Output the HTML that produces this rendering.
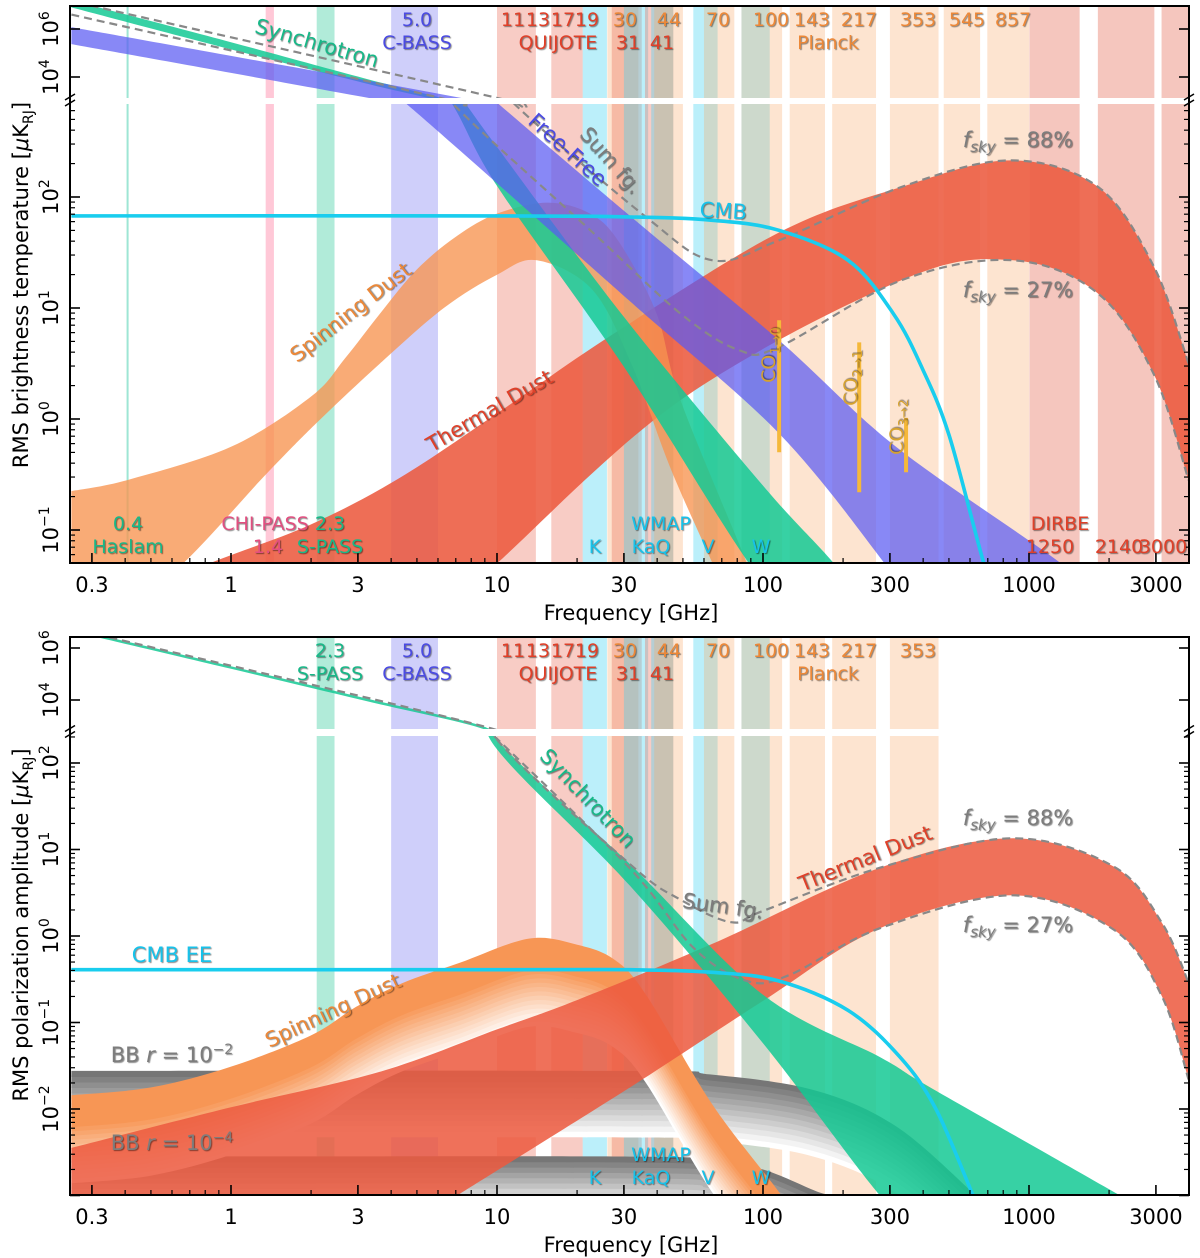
<!DOCTYPE html>
<html><head><meta charset="utf-8"><style>
html,body{margin:0;padding:0;background:#fff;}
svg{display:block;font-family:"DejaVu Sans","Liberation Sans",sans-serif;}
.lab{text-shadow:1px 1px 1px rgba(0,0,0,0.45);}
</style></head><body>
<svg id="chart" width="1200" height="1258" viewBox="0 0 1200 1258" xmlns="http://www.w3.org/2000/svg">
<defs id="defs"></defs>
<g id="layer"></g>
</svg>
<script>
// ---------- experiment bands (GHz) ----------
const bandLo   = [0.405,1.35,2.1,4.0,10,16,21,26,27,30,36,38,39,54.7,60,83,83,126,182,300,478,697,1003,1815,3150];
const bandHi   = [0.411,1.45,2.45,6.0,14,21,25.9,34,35,37,46,46,50,67.5,78,106,118,171,266,457,655,1000,1550,2960,3990];
const bandKind = ['haslam','chi','spass','cbass','quijote','quijote','wmap','planck','quijote','wmap','quijote','wmap','planck','wmap','planck','wmap','planck','planck','planck','planck','planck','planck','dirbe','dirbe','dirbe'];
const bandInPol = [0,0,1,1,1,1,1,1,1,1,1,1,1,1,1,1,1,1,1,1,0,0,0,0,0];

// ---------- TOP PANEL (log10 GHz, log10 uK) ----------
const syncLf   = [-0.6,0,0.5,0.8,1.0,1.477,2.0,2.27,2.5];
const syncHi   = [7.2,5.45,3.95,3.1,2.45,0.92,-0.6,-1.31,-2.0];
const syncLoLf = [-0.6,0,0.5,0.8,1.0,1.477,1.95,2.2];
const syncLo   = [6.9,5.15,3.75,2.95,2.1,0.47,-1.31,-2.0];

const ffHiLf = [-0.6,0,0.5,1.0,1.5,2.06,2.5,3.12,3.3];
const ffHi   = [6.08,4.88,3.88,2.85,1.83,0.71,-0.25,-1.3,-1.7];
const ffLoLf = [-0.6,0,0.556,0.86,1.5,2.06,2.46,2.6];
const ffLo   = [5.37,4.17,3.05,2.42,1.06,-0.13,-1.31,-1.8];

const ameHiLf = [-0.6,-0.39,0,0.3,0.43,0.56,0.7,0.85,1.0,1.19,1.35,1.46,1.6,1.69,1.94,2.0];
const ameHi   = [-0.65,-0.55,-0.25,0.2,0.55,0.95,1.35,1.65,1.85,1.95,1.85,1.59,0.95,0.17,-1.3,-1.7];
const ameLoLf = [-0.6,-0.25,0.135,0.32,0.56,0.8,1.0,1.15,1.36,1.51,1.65,1.81,1.9];
const ameLo   = [-1.9,-1.45,-0.49,-0.04,0.5,1.0,1.3,1.43,1.16,0.47,-0.43,-1.3,-1.8];

const dustHiLf = [-0.6,-0.08,0.3,0.635,1.0,1.44,2.06,2.52,2.93,3.26,3.47,3.6];
const dustHi   = [-1.8,-1.3,-0.95,-0.53,0.05,0.77,1.68,2.09,2.33,2.09,1.37,0.5];
const dustLoLf = [-0.6,0.9,1.0,1.69,2.52,2.94,3.26,3.47,3.6];
const dustLo   = [-2.5,-1.5,-1.3,0.17,1.25,1.43,1.13,0.4,-0.55];

const cmbLf = [-0.6,1.0,1.5,1.81,2.06,2.32,2.49,2.6,2.7,2.83,2.9];
const cmbT  = [1.83,1.83,1.82,1.79,1.70,1.43,0.95,0.45,-0.15,-1.3,-1.8];

const sumALf = [-0.6,-0.52,1.0,1.06,1.56,1.81,2.06,2.52,2.93,3.26,3.47,3.6];
const sumA   = [7.2,6.96,3.13,2.85,1.82,1.43,1.61,2.09,2.33,2.09,1.37,0.5];
const sumBLf = [-0.6,0.79,0.83,1.36,1.69,1.91,2.06,2.52,2.94,3.26,3.47,3.6];
const sumB   = [6.6,3.12,2.85,1.68,0.95,0.62,0.65,1.25,1.43,1.13,0.4,-0.55];

const coFreq = [115,230,345];
const coTop  = [0.89,0.69,0.01];
const coBot  = [-0.3,-0.66,-0.48];

// ---------- BOTTOM PANEL ----------
const pSyncLf = [-0.6,0,0.5,0.95,0.99,1.5,2.0,2.44,2.6,3.0,3.4];
const pSyncHi = [6.75,5.3,4.08,2.98,2.31,0.83,-0.68,-1.4,-1.7,-2.4,-3.1];
const pSyncLo = [6.65,5.2,3.98,2.88,2.2,0.58,-1.24,-3.0,-3.4,-3.8,-4.0];

const pDustHiLf = [-0.6,0,0.56,1.0,1.31,1.81,2.44,2.94,3.32,3.5,3.6];
const pDustHi   = [-2.45,-1.98,-1.57,-1.08,-0.73,-0.09,0.79,1.13,0.8,0.15,-0.54];
const pDustLoLf = [-0.6,0.8,0.85,1.5,2.0,2.44,2.94,3.32,3.5,3.6];
const pDustLo   = [-3.5,-3.1,-3.0,-1.75,-0.75,0.09,0.47,0.07,-0.7,-1.66];

const pAmeLf = [-0.6,-0.3,0,0.3,0.47,0.64,0.86,1.12,1.3,1.44,1.56,1.81,2.07,2.15];
const pAmeHi = [-1.84,-1.75,-1.51,-1.15,-0.82,-0.55,-0.31,-0.03,-0.1,-0.27,-0.68,-1.95,-3.0,-3.4];

const bb2Lf = [-0.6,1.5,1.8,2.19,2.5,2.8,2.9];
const bb2   = [-1.56,-1.56,-1.6,-1.78,-2.2,-3.0,-3.3];
const bb4Lf = [-0.6,1.5,1.8,2.0,2.2,2.3,2.4];
const bb4   = [-2.55,-2.55,-2.6,-2.7,-2.95,-3.05,-3.3];

const eeLf = [-0.6,1.0,1.5,1.81,2.06,2.32,2.515,2.65,2.79,2.85];
const eeT  = [-0.39,-0.39,-0.39,-0.42,-0.52,-0.86,-1.4,-2.0,-3.0,-3.4];

const pSumALf = [-0.6,0.974,0.99,1.5,1.69,1.88,2.0,2.44,2.94,3.32,3.5,3.6];
const pSumA   = [6.75,2.92,2.31,0.83,0.42,0.16,0.29,0.79,1.13,0.8,0.15,-0.54];
const pSumBLf = [0.99,1.5,1.74,1.94,2.1,2.44,2.94,3.32,3.5,3.6];
const pSumB   = [2.31,0.78,-0.14,-0.52,-0.45,0.09,0.47,0.07,-0.7,-1.66];

const xTickVals = [0.3,1,3,10,30,100,300,1000,3000];
const xTickText = ['0.3','1','3','10','30','100','300','1000','3000'];

// ---------- helpers ----------
const NS='http://www.w3.org/2000/svg';
const svg=document.getElementById('chart');
const defs=document.getElementById('defs');
const layer=document.getElementById('layer');
const X0=70,X1=1189;
const xf=lf=>231+266*lf;
const xg=f=>xf(Math.log10(f));
function el(tag,attrs,parent){const e=document.createElementNS(NS,tag);for(const k in attrs)e.setAttribute(k,attrs[k]);(parent||layer).appendChild(e);return e;}
function smooth(pts){
  if(pts.length<2)return '';
  let d='M'+pts[0][0].toFixed(1)+','+pts[0][1].toFixed(1);
  for(let i=0;i<pts.length-1;i++){
    const p0=pts[Math.max(0,i-1)],p1=pts[i],p2=pts[i+1],p3=pts[Math.min(pts.length-1,i+2)];
    const c1=[p1[0]+(p2[0]-p0[0])/6,p1[1]+(p2[1]-p0[1])/6];
    const c2=[p2[0]-(p3[0]-p1[0])/6,p2[1]-(p3[1]-p1[1])/6];
    d+='C'+c1[0].toFixed(1)+','+c1[1].toFixed(1)+' '+c2[0].toFixed(1)+','+c2[1].toFixed(1)+' '+p2[0].toFixed(1)+','+p2[1].toFixed(1);
  }
  return d;
}
function pts(lfs,vals,ym){return lfs.map((l,i)=>[xf(l),ym(vals[i])]);}
function bandPath(hl,hv,ll,lv,ym){
  const a=pts(hl,hv,ym),b=pts(ll,lv,ym).reverse();
  return smooth(a)+' L'+b[0][0].toFixed(1)+','+b[0][1].toFixed(1)+smooth(b).replace(/^M[^C]*/,'')+'Z';
}
const panels={
  top:{y0:6,y1:563,secs:[{y0:6,y1:98,a:77,b:24,r:4},{y0:104,y1:563,a:419,b:111,r:0}]},
  bot:{y0:637,y1:1195,secs:[{y0:637,y1:729,a:700,b:26,r:4},{y0:736,y1:1195,a:936,b:86.5,r:0}]}
};
let clipN=0;
function secGroup(sec,name){
  const id='clip'+(clipN++);
  const cp=el('clipPath',{id:id},defs);
  el('rect',{x:X0,y:sec.y0,width:X1-X0,height:sec.y1-sec.y0},cp);
  const g=el('g',{'clip-path':'url(#'+id+')'});
  
  
  return g;
}
function ymOf(sec){return L=>sec.a-sec.b*(L-sec.r);}
function eachSec(panel,name,fn){panel.secs.forEach((s,i)=>{const g=secGroup(s,name+(i==0?'-upper':'-lower'));fn(g,ymOf(s));});}

const bandColor={haslam:'rgba(40,200,160,0.45)',chi:'rgba(255,110,150,0.38)',spass:'rgba(40,200,150,0.36)',cbass:'rgba(110,110,240,0.33)',quijote:'rgba(235,100,80,0.33)',wmap:'rgba(60,210,240,0.35)',planck:'rgba(250,165,100,0.30)',dirbe:'rgba(230,105,85,0.38)'};

function drawBands(panel,pol,prefix){
  eachSec(panel,prefix+'-bands',(g,ym)=>{
    for(let i=0;i<bandLo.length;i++){
      if(pol&&!bandInPol[i])continue;
      const r=el('rect',{x:xg(bandLo[i]),y:0,width:Math.max(2,xg(bandHi[i])-xg(bandLo[i])),height:1258,fill:bandColor[bandKind[i]]},g);
      
      
    }
  });
}
function fillBand(panel,name,hl,hv,ll,lv,color,op){
  eachSec(panel,name,(g,ym)=>{
    const p=el('path',{d:bandPath(hl,hv,ll,lv,ym),fill:color,'fill-opacity':op},g);
    
    
  });
}
function line(panel,name,lf,v,color,w,dash){
  eachSec(panel,name,(g,ym)=>{
    const a={d:smooth(pts(lf,v,ym)),fill:'none',stroke:color,'stroke-width':w};
    if(dash)a['stroke-dasharray']=dash;
    const p=el('path',a,g);
    
    
  });
}
function fadeBand(panel,name,lf,hv,depth,fullDepth,rgb,steps){
  eachSec(panel,name,(g,ym)=>{
    for(let i=steps-1;i>=0;i--){
      const t=i/(steps-1);
      const top=i===0?0:fullDepth+(depth-fullDepth)*(i-1)/(steps-1);
      const bot=fullDepth+(depth-fullDepth)*i/(steps-1)+0.02;
      const c=rgb.map(v=>Math.round(v+(255-v)*t));
      const hi=hv.map(v=>v-top), lo=hv.map(v=>v-bot);
      const p=el('path',{d:bandPath(lf,hi,lf,lo,ym),fill:'rgb('+c.join(',')+')'},g);
      
      
    }
  });
}
function txt(x,y,s,opt){
  opt=opt||{};
  const t=el('text',{x:x,y:y,'text-anchor':opt.anchor||'middle',fill:opt.fill||'#000','font-size':opt.size||19},opt.parent);
  if(opt.cls)t.setAttribute('class',opt.cls);
  if(opt.rot!==undefined)t.setAttribute('transform','rotate('+opt.rot+' '+x+' '+y+')');
  t.innerHTML=s;
  
  
  return t;
}
function axes(panel,prefix){
  const g=el('g',{});
  
  
  el('rect',{x:X0,y:panel.y0,width:X1-X0,height:panel.y1-panel.y0,fill:'none',stroke:'#000','stroke-width':2},g);
  const ug=panel.secs[0].y1, lg=panel.secs[1].y0;
  el('rect',{x:X0+1,y:ug,width:X1-X0-2,height:lg-ug,fill:'#fff'},g);
  for(let e=-1;e<=3;e++)for(let m=1;m<=9;m++){
    const f=m*Math.pow(10,e);const x=xg(f);if(x<X0||x>X1)continue;
    const major=(m===1||m===3);
    el('line',{x1:x,x2:x,y1:panel.y1,y2:panel.y1-(major?10:5),stroke:'#000','stroke-width':major?1.6:1.2},g);
  }
  xTickVals.forEach((f,i)=>{txt(xg(f),panel.y1+29,xTickText[i],{size:21,parent:g,name:'x-tick-label'});});
  txt(631,panel.y1+57,'Frequency [GHz]',{size:21,parent:g,name:'x-axis-title'});
  panel.secs.forEach((s,si)=>{
    const ym=ymOf(s);
    for(let e=-4;e<=7;e++)for(let m=1;m<=9;m++){
      const L=e+Math.log10(m);const y=ym(L);
      if(y<s.y0-0.5||y>s.y1+0.5)continue;
      if(si===0&&m!==1)continue;
      if(si===0&&e%2!==0)continue;
      const major=m===1;const len=major?10:5;
      el('line',{x1:X0,x2:X0+len,y1:y,y2:y,stroke:'#000','stroke-width':major?1.6:1.2},g);
      el('line',{x1:X1,x2:X1-len,y1:y,y2:y,stroke:'#000','stroke-width':major?1.6:1.2},g);
      if(major&&y<s.y1-8){
        txt(58,y,'10<tspan font-size="14" dy="-9">'+(e<0?'\u2212'+(-e):e)+'</tspan>',{size:21,parent:g,rot:-90,name:'y-tick-label'});
      }
    }
  });
  const my=(ug+lg)/2;
  [X0,X1].forEach(x=>{
    el('line',{x1:x-5,x2:x+5,y1:my-1,y2:my-7,stroke:'#000','stroke-width':1.5},g);
    el('line',{x1:x-5,x2:x+5,y1:my+5,y2:my-1,stroke:'#000','stroke-width':1.5},g);
  });
}

// ================= TOP PANEL =================
const T=panels.top;
drawBands(T,false,'top');
fillBand(T,'thermal-dust-band',dustHiLf,dustHi,dustLoLf,dustLo,'#ec5a3f',0.88);
fillBand(T,'spinning-dust-band',ameHiLf,ameHi,ameLoLf,ameLo,'#f7944f',0.78);
fillBand(T,'synchrotron-band',syncLf,syncHi,syncLoLf,syncLo,'#14c994',0.85);
fillBand(T,'free-free-band',ffHiLf,ffHi,ffLoLf,ffLo,'#5a5af2',0.72);
line(T,'sum-fg-high',sumALf,sumA,'#888',2.2,'8,5');
line(T,'sum-fg-low',sumBLf,sumB,'#888',2.2,'8,5');
line(T,'cmb-curve',cmbLf,cmbT,'#19cdee',3.6);
eachSec(T,'co-lines',(g,ym)=>{
  if(ym(0)!==419)return;
  coFreq.forEach((f,i)=>{const l=el('line',{x1:xg(f),x2:xg(f),y1:ym(coTop[i]),y2:ym(coBot[i]),stroke:'#f5b83a','stroke-width':4},g);
    });
});
axes(T,'top');

const G='#18b888',B='#4b4be2',R='#df4029',O='#ec8838',C='#17c2ea',PK='#e24f80',GR='#7d7d7d',Y='#d6a22e';
txt(128,530,'0.4',{fill:G,cls:'lab'});txt(128,553,'Haslam',{fill:G,cls:'lab'});
txt(265,530,'CHI-PASS',{fill:PK,cls:'lab'});txt(268,553,'1.4',{fill:PK,cls:'lab'});
txt(330,530,'2.3',{fill:G,cls:'lab'});txt(330,553,'S-PASS',{fill:G,cls:'lab'});
txt(595,553,'K',{fill:C,cls:'lab'});txt(661,530,'WMAP',{fill:C,cls:'lab'});txt(651,553,'KaQ',{fill:C,cls:'lab'});
txt(708,553,'V',{fill:C,cls:'lab'});txt(761,553,'W',{fill:C,cls:'lab'});
txt(1060,530,'DIRBE',{fill:R,cls:'lab'});txt(1050,553,'1250',{fill:R,cls:'lab'});txt(1119,553,'2140',{fill:R,cls:'lab'});txt(1163,553,'3000',{fill:R,cls:'lab'});
function topLabels(y1,y2,pol){
  if(pol){txt(330,y1,'2.3',{fill:G,cls:'lab'});txt(330,y2,'S-PASS',{fill:G,cls:'lab'});}
  txt(417,y1,'5.0',{fill:B,cls:'lab'});
  txt(417,y2,'C-BASS',{fill:B,cls:'lab'});
  [['11',513],['13',538],['17',563],['19',587]].forEach(a=>txt(a[1],y1,a[0],{fill:R,cls:'lab'}));
  txt(558,y2,'QUIJOTE',{fill:R,cls:'lab'});txt(628,y2,'31',{fill:R,cls:'lab'});txt(662,y2,'41',{fill:R,cls:'lab'});
  const pl=pol?[['30',625],['44',669],['70',718],['100',771],['143',812],['217',859],['353',918]]:[['30',625],['44',669],['70',718],['100',771],['143',812],['217',859],['353',918],['545',967],['857',1013]];
  pl.forEach(a=>txt(a[1],y1,a[0],{fill:O,cls:'lab'}));
  txt(828,y2,'Planck',{fill:O,cls:'lab'});
}
topLabels(26,49,false);
txt(315,50,'Synchrotron',{fill:G,cls:'lab',rot:16,size:21});
txt(563,155,'Free-Free',{fill:B,cls:'lab',rot:42,size:21});
txt(606,165,'Sum fg.',{fill:GR,cls:'lab',rot:48,size:21});
txt(723,218,'CMB',{fill:C,cls:'lab',rot:3,size:21});
txt(355,318,'Spinning Dust',{fill:O,cls:'lab',rot:-38,size:21});
txt(493,417,'Thermal Dust',{fill:R,cls:'lab',rot:-30,size:21});
txt(775,355,'CO<tspan font-size="13" dy="5">1\u21920</tspan>',{fill:Y,cls:'lab',rot:-90,size:19});
txt(857,378,'CO<tspan font-size="13" dy="5">2\u21921</tspan>',{fill:Y,cls:'lab',rot:-90,size:19});
txt(903,427,'CO<tspan font-size="13" dy="5">3\u21922</tspan>',{fill:Y,cls:'lab',rot:-90,size:19});
function fsky(x,y,v){txt(x,y,'<tspan font-style="italic">f</tspan><tspan font-style="italic" font-size="15" dy="5">sky</tspan><tspan dy="-5"> = '+v+'%</tspan>',{fill:GR,cls:'lab',size:21,name:'fsky-label'});}
fsky(1018,147,88);fsky(1018,297,27);
txt(28,285,'RMS brightness temperature [<tspan font-style="italic">\u03bc</tspan>K<tspan font-size="14" dy="5">RJ</tspan><tspan dy="-5">]</tspan>',{size:21,rot:-90,name:'y-axis-title-top'});

// ================= BOTTOM PANEL =================
const P=panels.bot;
drawBands(P,true,'bottom');
fadeBand(P,'bb-r1e-2-band',bb2Lf,bb2,0.75,0.05,[118,118,118],12);
fadeBand(P,'bb-r1e-4-band',bb4Lf,bb4,0.6,0.05,[118,118,118],10);
fadeBand(P,'spinning-dust-pol-band',pAmeLf,pAmeHi,1.0,0.35,[247,150,85],14);
fillBand(P,'thermal-dust-pol-band',pDustHiLf,pDustHi,pDustLoLf,pDustLo,'#ec5a3f',0.86);
fillBand(P,'synchrotron-pol-band',pSyncLf,pSyncHi,pSyncLf,pSyncLo,'#14c994',0.85);
line(P,'sum-fg-pol-high',pSumALf,pSumA,'#888',2.2,'8,5');
line(P,'sum-fg-pol-low',pSumBLf,pSumB,'#888',2.2,'8,5');
line(P,'cmb-ee-curve',eeLf,eeT,'#19cdee',3.6);
axes(P,'bottom');
topLabels(657,680,true);
txt(595,1184,'K',{fill:C,cls:'lab'});txt(661,1161,'WMAP',{fill:C,cls:'lab'});txt(651,1184,'KaQ',{fill:C,cls:'lab'});
txt(708,1184,'V',{fill:C,cls:'lab'});txt(761,1184,'W',{fill:C,cls:'lab'});
txt(583,803,'Synchrotron',{fill:G,cls:'lab',rot:46,size:21});
txt(722,913,'Sum fg.',{fill:GR,cls:'lab',rot:8,size:21});
txt(868,865,'Thermal Dust',{fill:R,cls:'lab',rot:-22,size:21});
txt(336,1017,'Spinning Dust',{fill:O,cls:'lab',rot:-25,size:21});
txt(172,962,'CMB EE',{fill:C,cls:'lab',size:21});
txt(172,1062,'BB <tspan font-style="italic">r</tspan> = 10<tspan font-size="14" dy="-8">\u22122</tspan>',{fill:GR,cls:'lab',size:21,name:'bb-r1e-2-label'});
txt(172,1150,'BB <tspan font-style="italic">r</tspan> = 10<tspan font-size="14" dy="-8">\u22124</tspan>',{fill:GR,cls:'lab',size:21,name:'bb-r1e-4-label'});
fsky(1018,825,88);fsky(1018,932,27);
txt(28,925,'RMS polarization amplitude [<tspan font-style="italic">\u03bc</tspan>K<tspan font-size="14" dy="5">RJ</tspan><tspan dy="-5">]</tspan>',{size:21,rot:-90,name:'y-axis-title-bottom'});
</script>
</body></html>
